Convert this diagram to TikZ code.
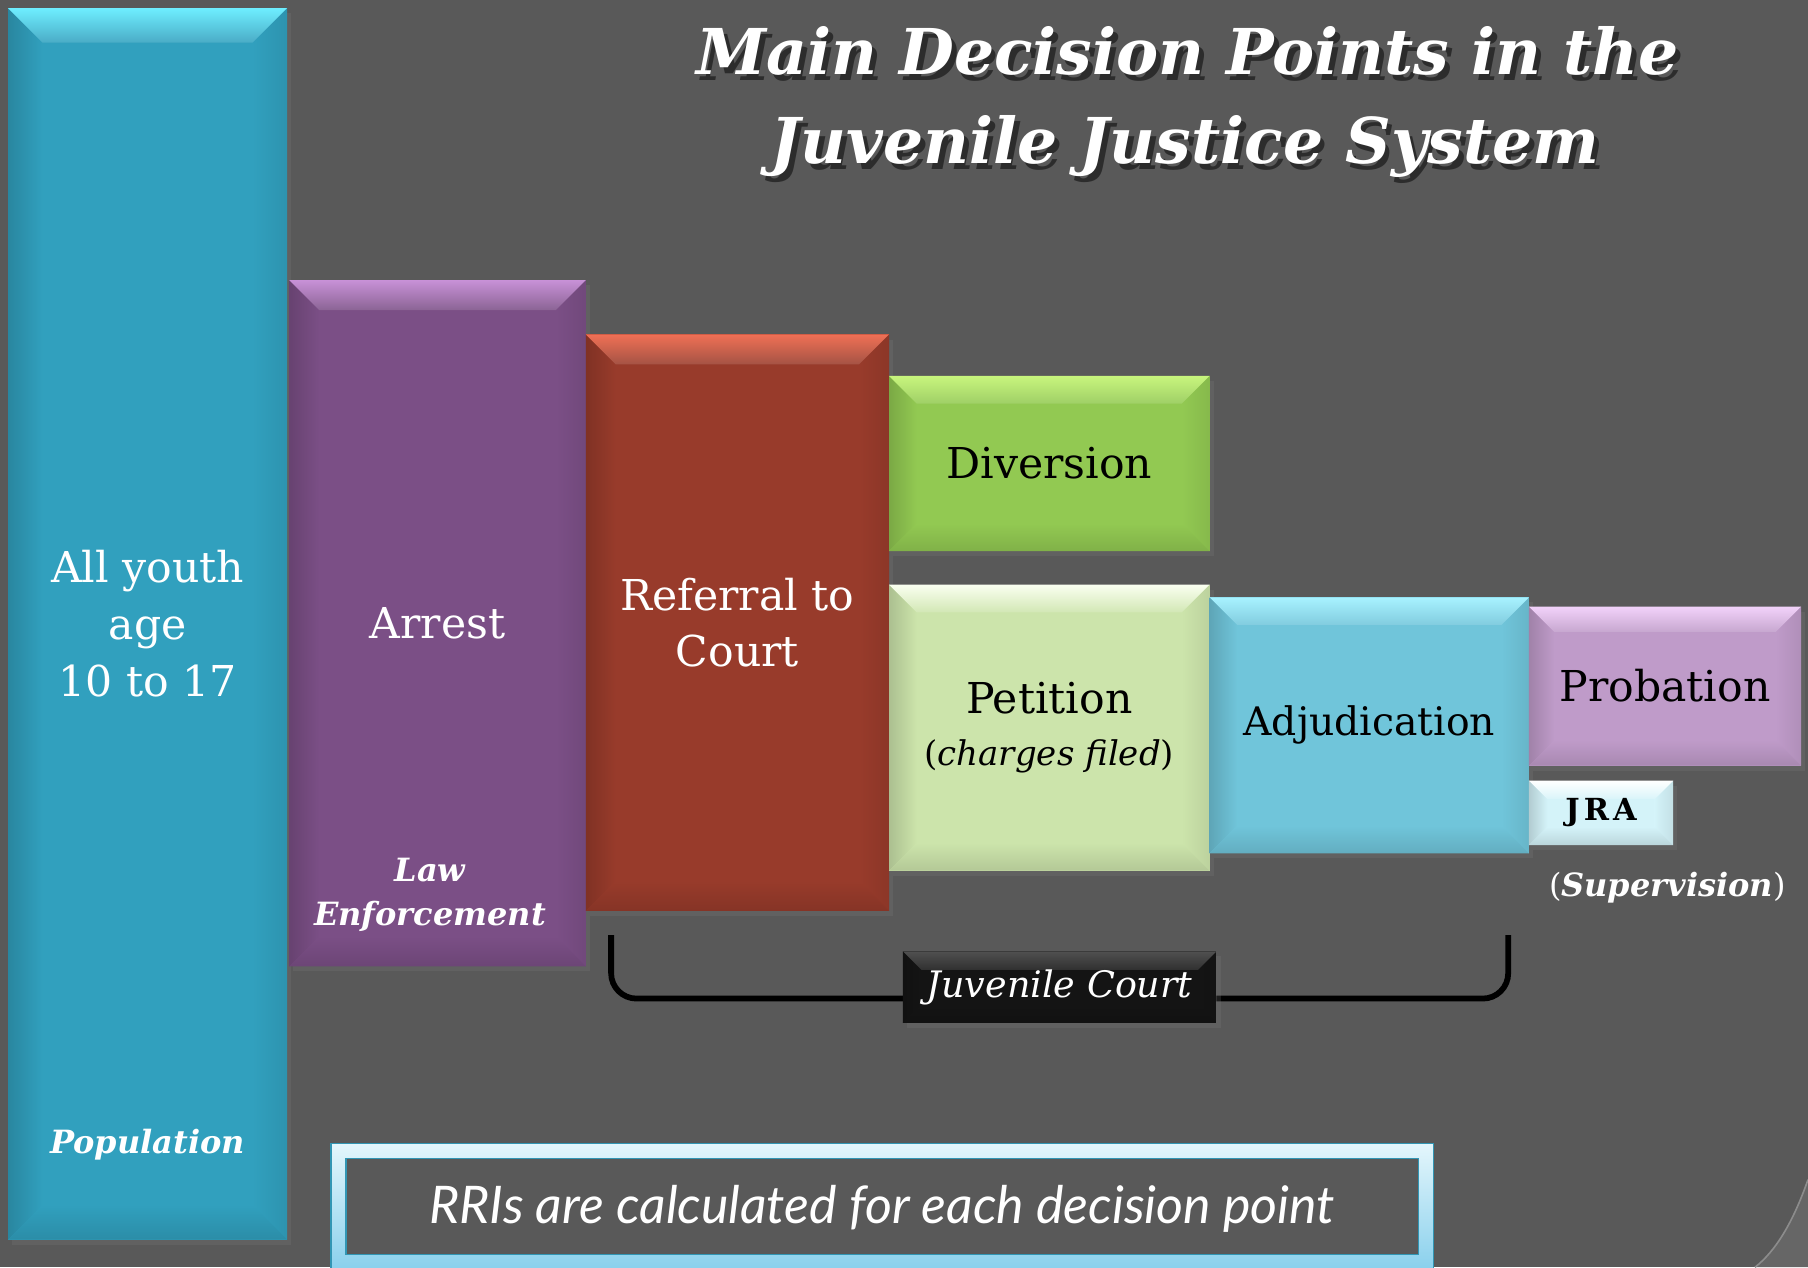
\documentclass[tikz,border=0pt]{standalone}
\usepackage{fontspec}
\setmainfont{DejaVu Serif}
\newfontfamily\rrifont{Lato}
\usetikzlibrary{calc,shadows}
\pgfdeclarelayer{front}
\pgfsetlayers{main,front}

\definecolor{bg}{RGB}{89,89,89}
\definecolor{cornerc}{RGB}{102,102,102}
\definecolor{cornerl}{RGB}{140,140,140}
\definecolor{popc}{RGB}{49,160,190}
\definecolor{popl}{RGB}{110,238,255}
\definecolor{arrc}{RGB}{123,79,134}
\definecolor{arrl}{RGB}{200,145,215}
\definecolor{refc}{RGB}{152,59,43}
\definecolor{refl}{RGB}{240,112,85}
\definecolor{divc}{RGB}{146,201,82}
\definecolor{divl}{RGB}{200,245,125}
\definecolor{petc}{RGB}{204,228,171}
\definecolor{petl}{RGB}{250,255,240}
\definecolor{adjc}{RGB}{112,197,218}
\definecolor{adjl}{RGB}{168,242,255}
\definecolor{proc}{RGB}{191,155,201}
\definecolor{prol}{RGB}{242,210,250}
\definecolor{jrac}{RGB}{212,243,249}
\definecolor{jral}{RGB}{255,255,255}
\definecolor{jcc}{RGB}{20,20,20}
\definecolor{jcl}{RGB}{80,80,80}
\definecolor{framehi}{RGB}{228,246,252}
\definecolor{framelo}{RGB}{130,205,235}
\definecolor{frameedge}{RGB}{50,150,180}

\newcommand\boxfont{\fontsize{10.5}{14}\selectfont}
\newcommand\lblfont{\fontsize{7.9}{11}\selectfont\bfseries\itshape}

\tikzset{
  bevelbox/.style n args={3}{rectangle, inner sep=0pt, outer sep=0pt, fill=#1, align=center,
    drop shadow={opacity=0.22, shadow xshift=0.35mm, shadow yshift=-0.45mm},
    path picture={
      \coordinate (bvnw) at (path picture bounding box.north west);
      \coordinate (bvne) at (path picture bounding box.north east);
      \coordinate (bvsw) at (path picture bounding box.south west);
      \coordinate (bvse) at (path picture bounding box.south east);
      \shade[left color=#1!84!black, right color=#1] (bvnw) -- ($(bvnw)+(#3,#3)$) -- ($(bvsw)+(#3,-#3)$) -- (bvsw) -- cycle;
      \shade[left color=#1, right color=#1!92!black] (bvne) -- ($(bvne)+(-#3,#3)$) -- ($(bvse)+(-#3,-#3)$) -- (bvse) -- cycle;
      \shade[top color=#1, bottom color=#1!88!black] (bvsw) -- ($(bvsw)+(#3,-#3)$) -- ($(bvse)+(-#3,-#3)$) -- (bvse) -- cycle;
      \shade[top color=#2, bottom color=#1!88!white] (bvnw) -- (bvne) -- ($(bvne)+(-#3,#3)$) -- ($(bvnw)+(#3,#3)$) -- cycle;
    }},
  lbltext/.style={text=white, font=\lblfont, align=center, inner sep=0pt},
  titletext/.style={font=\fontsize{15.6}{20}\selectfont\bfseries\itshape, anchor=base, inner sep=0pt},
  bracket/.style={line width=0.5mm, black, rounded corners=2.2mm},
}

\begin{document}
\begin{tikzpicture}[x=1mm,y=-1mm]
\useasboundingbox (0,0) rectangle (156.8,109.9);
\fill[bg] (0,0) rectangle (156.8,109.9);
% page-curl corner
\fill[cornerc] (156.8,102.3) .. controls (155.5,106) and (154,108.5) .. (152.2,109.9) -- (156.8,109.9) -- cycle;
\draw[cornerl, line width=0.4pt] (156.8,102.3) .. controls (155.5,106) and (154,108.5) .. (152.2,109.9);

% title
\node[titletext, text=black, opacity=0.5] (t1s) at (103.4,7.0) {Main Decision Points in the};
\node[titletext, text=white] (t1) at (103.0,6.5) {Main Decision Points in the};
\node[titletext, text=black, opacity=0.5] (t2s) at (103.2,14.7) {Juvenile Justice System};
\node[titletext, text=white] (t2) at (102.8,14.2) {Juvenile Justice System};

% boxes
\node[bevelbox={popc}{popl}{3.0}, minimum width=24.2mm, minimum height=106.8mm, text=white, font=\boxfont] (pop) at (12.8,54.1) {All youth\\age\\10 to 17};
\node[bevelbox={arrc}{arrl}{2.6}, minimum width=25.7mm, minimum height=59.5mm, text=white, font=\boxfont] (arrest) at (37.95,54.05) {Arrest};
\node[bevelbox={refc}{refl}{2.6}, minimum width=26.3mm, minimum height=50mm, text=white, font=\boxfont] (referral) at (63.95,54.0) {Referral to\\Court};
\node[bevelbox={divc}{divl}{2.4}, minimum width=27.8mm, minimum height=15.2mm, text=black, font=\boxfont] (diversion) at (91.0,40.2) {Diversion};
\node[bevelbox={petc}{petl}{2.4}, minimum width=27.8mm, minimum height=24.8mm, text=black, font=\fontsize{10.5}{12.8}\selectfont] (petition) at (91.0,63.1) {Petition\\{\fontsize{8.4}{12.8}\selectfont(\textit{charges filed})}};
\node[bevelbox={adjc}{adjl}{2.4}, minimum width=27.7mm, minimum height=22.2mm, text=black, font=\fontsize{9.7}{12}\selectfont] (adjudication) at (118.75,62.9) {Adjudication};
\node[bevelbox={proc}{prol}{2.2}, minimum width=23.6mm, minimum height=13.8mm, text=black, font=\boxfont] (probation) at (144.4,59.5) {Probation};
\node[bevelbox={jrac}{jral}{1.6}, minimum width=12.5mm, minimum height=5.6mm, text=black, font=\fontsize{7.5}{9}\selectfont\bfseries] (jra) at (138.85,70.5) {J\kern1pt R\kern1pt A};

% labels
\node[lbltext] (poplbl) at (12.8,99.3) {Population};
\node[lbltext] (lawlbl) at (37.3,77.6) {Law\\Enforcement};
\node[lbltext] (suplbl) at (144.6,77.0) {{\mdseries\upshape(}Supervision{\mdseries\upshape)}};

% juvenile court bracket
\coordinate (bl) at (53.0,81.1);
\coordinate (br) at (130.8,81.1);
\begin{pgfonlayer}{front}
\node[bevelbox={jcc}{jcl}{1.6}, minimum width=27.2mm, minimum height=6.2mm, text=white, font=\fontsize{9}{11}\selectfont\itshape] (jc) at (91.9,85.6) {Juvenile Court};
\end{pgfonlayer}
\draw[bracket] (bl) |- ($(jc.west)+(0,1.0)$);
\draw[bracket] (br) |- ($(jc.east)+(0,1.0)$);

% RRI frame
\shade[top color=framehi, bottom color=framelo, even odd rule] (28.7,99.2) rectangle (124.3,111) (30.0,100.5) rectangle (123.0,108.8);
\draw[frameedge, line width=0.3pt] (28.7,99.2) rectangle (124.3,111) (30.0,100.5) rectangle (123.0,108.8);
\node[font=\rrifont\itshape\fontsize{12.8}{15}\selectfont, text=white] (rri) at (76.5,104.8) {RRIs are calculated for each decision point};
\end{tikzpicture}
\end{document}
